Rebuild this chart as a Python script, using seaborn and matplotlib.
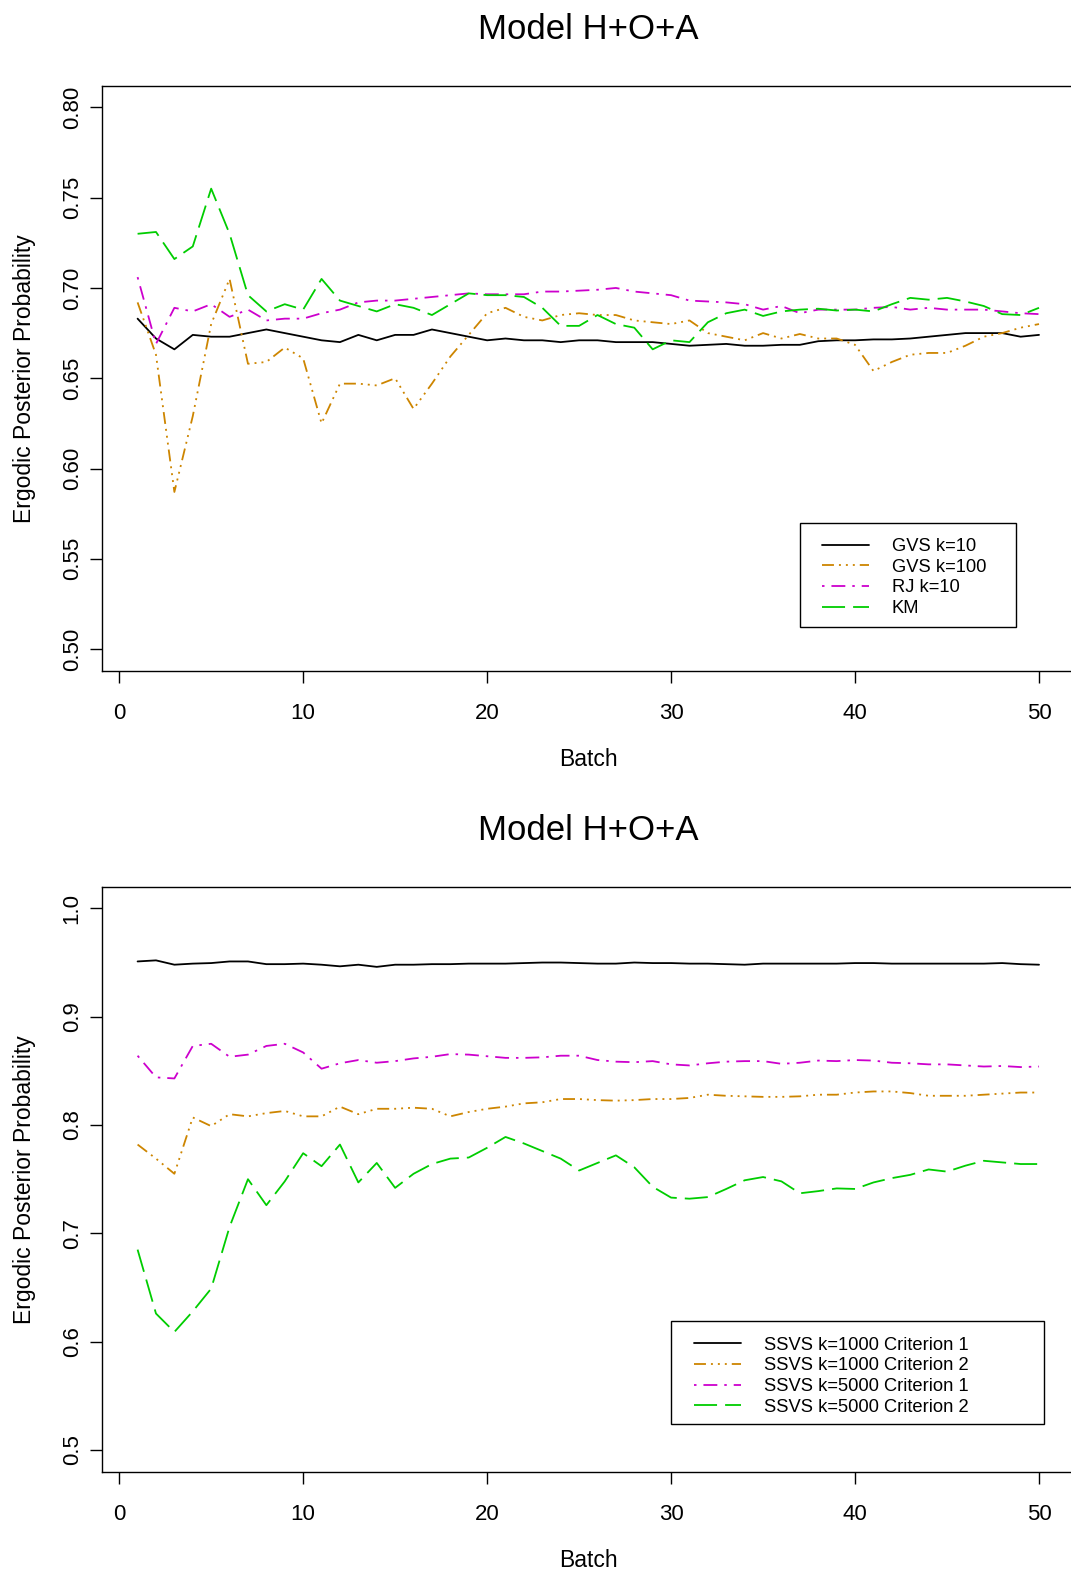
import matplotlib
matplotlib.use("Agg")
import matplotlib.pyplot as plt
from matplotlib.patches import Rectangle
import pandas as pd
import seaborn as sns

# ---- data -------------------------------------------------------------
batch = list(range(1, 51))

# upper panel: GVS / RJ / KM samplers
top_names = ["GVS k=10", "GVS k=100", "RJ k=10", "KM"]
gvs_k10 = [0.683, 0.672, 0.666, 0.674, 0.673, 0.673, 0.675, 0.677, 0.675, 0.673,
           0.671, 0.670, 0.674, 0.671, 0.674, 0.674, 0.677, 0.675, 0.673, 0.671,
           0.672, 0.671, 0.671, 0.670, 0.671, 0.671, 0.670, 0.670, 0.670, 0.669,
           0.668, 0.6685, 0.669, 0.668, 0.668, 0.6685, 0.6685, 0.6705, 0.671, 0.671,
           0.6715, 0.6715, 0.672, 0.673, 0.674, 0.675, 0.675, 0.675, 0.673, 0.674]
gvs_k100 = [0.692, 0.663, 0.587, 0.629, 0.680, 0.705, 0.658, 0.659, 0.667, 0.661,
            0.625, 0.647, 0.647, 0.646, 0.650, 0.633, 0.647, 0.662, 0.674, 0.686,
            0.689, 0.684, 0.682, 0.685, 0.686, 0.685, 0.685, 0.682, 0.681, 0.680,
            0.682, 0.675, 0.673, 0.671, 0.675, 0.672, 0.6745, 0.672, 0.672, 0.6685,
            0.654, 0.659, 0.663, 0.664, 0.664, 0.668, 0.673, 0.675, 0.678, 0.680]
rj_k10 = [0.706, 0.669, 0.689, 0.687, 0.691, 0.684, 0.688, 0.682, 0.683, 0.683,
          0.686, 0.688, 0.692, 0.693, 0.693, 0.694, 0.695, 0.696, 0.697, 0.6965,
          0.6965, 0.6965, 0.698, 0.698, 0.6985, 0.699, 0.700, 0.698, 0.697, 0.696,
          0.693, 0.6925, 0.692, 0.691, 0.688, 0.690, 0.686, 0.688, 0.688, 0.688,
          0.689, 0.6895, 0.688, 0.689, 0.688, 0.688, 0.688, 0.687, 0.686, 0.6855]
km = [0.730, 0.731, 0.716, 0.723, 0.755, 0.730, 0.696, 0.687, 0.691, 0.688,
      0.705, 0.693, 0.690, 0.687, 0.691, 0.689, 0.685, 0.691, 0.697, 0.696,
      0.696, 0.695, 0.689, 0.679, 0.679, 0.685, 0.680, 0.678, 0.666, 0.671,
      0.670, 0.681, 0.686, 0.688, 0.6845, 0.687, 0.688, 0.6885, 0.6875, 0.688,
      0.687, 0.691, 0.6945, 0.6935, 0.6945, 0.6925, 0.690, 0.6855, 0.685, 0.689]

# lower panel: SSVS variants
bottom_names = ["SSVS k=1000 Criterion 1", "SSVS k=1000 Criterion 2",
                "SSVS k=5000 Criterion 1", "SSVS k=5000 Criterion 2"]
ssvs_1000_c1 = [0.951, 0.952, 0.948, 0.949, 0.9495, 0.951, 0.951, 0.9485, 0.9485, 0.949,
                0.948, 0.9465, 0.948, 0.946, 0.948, 0.948, 0.9485, 0.9485, 0.949, 0.949,
                0.949, 0.9495, 0.950, 0.950, 0.9495, 0.949, 0.949, 0.950, 0.9495, 0.9495,
                0.949, 0.949, 0.9485, 0.948, 0.949, 0.949, 0.949, 0.949, 0.949, 0.9495,
                0.9495, 0.949, 0.949, 0.949, 0.949, 0.949, 0.949, 0.9495, 0.9485, 0.948]
ssvs_1000_c2 = [0.782, 0.769, 0.755, 0.807, 0.799, 0.810, 0.808, 0.811, 0.813, 0.808,
                0.808, 0.817, 0.810, 0.815, 0.815, 0.816, 0.815, 0.808, 0.812, 0.815,
                0.817, 0.820, 0.821, 0.824, 0.824, 0.823, 0.8225, 0.823, 0.824, 0.824,
                0.825, 0.828, 0.827, 0.8265, 0.826, 0.826, 0.8265, 0.828, 0.828, 0.830,
                0.831, 0.831, 0.8295, 0.827, 0.827, 0.827, 0.828, 0.829, 0.830, 0.830]
ssvs_5000_c1 = [0.864, 0.844, 0.843, 0.873, 0.875, 0.863, 0.865, 0.873, 0.875, 0.867,
                0.852, 0.857, 0.860, 0.8575, 0.859, 0.8615, 0.863, 0.8655, 0.865, 0.8635,
                0.862, 0.862, 0.8625, 0.864, 0.864, 0.860, 0.8585, 0.858, 0.859, 0.856,
                0.855, 0.857, 0.8585, 0.859, 0.859, 0.8565, 0.8575, 0.8595, 0.859, 0.860,
                0.8595, 0.8575, 0.857, 0.856, 0.856, 0.855, 0.854, 0.8545, 0.8535, 0.854]
ssvs_5000_c2 = [0.685, 0.626, 0.609, 0.628, 0.649, 0.706, 0.750, 0.726, 0.748, 0.774,
                0.762, 0.782, 0.747, 0.765, 0.742, 0.755, 0.764, 0.769, 0.770, 0.779,
                0.789, 0.783, 0.776, 0.769, 0.758, 0.765, 0.772, 0.761, 0.743, 0.733,
                0.732, 0.7335, 0.741, 0.749, 0.752, 0.748, 0.737, 0.739, 0.7415, 0.741,
                0.747, 0.751, 0.754, 0.759, 0.757, 0.7625, 0.767, 0.7655, 0.764, 0.764]

top_series = [gvs_k10, gvs_k100, rj_k10, km]
bottom_series = [ssvs_1000_c1, ssvs_1000_c2, ssvs_5000_c1, ssvs_5000_c2]

# ---- styling ----------------------------------------------------------
colors = ["black", "#CD8500", "#CD00CD", "#00CD00"]
# dash sequences in points: solid, dash-dot-dot-dot, dot-dash, long dash
dash_styles = ["", (8.6, 3.6, 1.4, 3.6, 1.4, 3.6, 1.4, 3.6), (1.8, 5.0, 10.0, 5.0), (16.6, 5.8)]

sns.set_theme(style="white")
plt.rcParams["font.family"] = ["Liberation Sans", "DejaVu Sans"]
plt.rcParams["lines.scale_dashes"] = False
for key in ["text.color", "axes.labelcolor", "xtick.color", "ytick.color", "axes.edgecolor"]:
    plt.rcParams[key] = "black"

fig = plt.figure(figsize=(10.71, 15.73), dpi=100)
ax_top = fig.add_axes([0.0948, 0.5736, 0.909, 0.3719])
ax_bot = fig.add_axes([0.0948, 0.0644, 0.909, 0.3719])


def draw_panel(ax, names, series, ylim, yticks, yticklabels, leg_anchor, leg_box):
    frames = [pd.DataFrame({"Batch": batch, "Probability": vals, "Series": name})
              for name, vals in zip(names, series)]
    data = pd.concat(frames, ignore_index=True)
    sns.lineplot(data=data, x="Batch", y="Probability", hue="Series", style="Series",
                 hue_order=names, style_order=names,
                 palette=dict(zip(names, colors)), dashes=dict(zip(names, dash_styles)),
                 estimator=None, sort=False, legend=False, linewidth=1.3, ax=ax)

    ax.set_xlim(-0.96, 51.96)
    ax.set_ylim(*ylim)
    ax.set_xticks([0, 10, 20, 30, 40, 50])
    ax.set_yticks(yticks)
    ax.set_yticklabels(yticklabels, rotation=90, va="center")
    ax.tick_params(axis="both", direction="out", length=8.6, width=1.0,
                   labelsize=16, bottom=True, left=True)
    ax.tick_params(axis="x", pad=14.5)
    ax.tick_params(axis="y", pad=5)
    for sp in ax.spines.values():
        sp.set_linewidth(1.0)
        sp.set_color("black")

    ax.set_xlabel("Batch", fontsize=16.5)
    ax.set_ylabel("Ergodic Posterior Probability", fontsize=16.5)
    ax.xaxis.set_label_coords(0.5, -0.1322)
    ax.yaxis.set_label_coords(-0.067, 0.5)
    ax.set_title("Model H+O+A", fontsize=25, y=1.0798, pad=0)

    ax.legend(handles=ax.lines[:4], labels=names, loc="upper left",
              bbox_to_anchor=leg_anchor, frameon=False, borderpad=0, borderaxespad=0,
              fontsize=13.2, handlelength=2.57, handletextpad=1.22, labelspacing=0.2)
    x0, y0, w, h = leg_box
    ax.add_patch(Rectangle((x0, y0), w, h, transform=ax.transAxes, fill=False,
                           edgecolor="black", linewidth=1.0, zorder=5))


draw_panel(ax_top, top_names, top_series, (0.488, 0.812),
           [0.50, 0.55, 0.60, 0.65, 0.70, 0.75, 0.80],
           ["0.50", "0.55", "0.60", "0.65", "0.70", "0.75", "0.80"],
           (0.7404, 0.2267), (0.7175, 0.0747, 0.2219, 0.1783))
draw_panel(ax_bot, bottom_names, bottom_series, (0.48, 1.02),
           [0.5, 0.6, 0.7, 0.8, 0.9, 1.0],
           ["0.5", "0.6", "0.7", "0.8", "0.9", "1.0"],
           (0.6086, 0.2308), (0.585, 0.0807, 0.383, 0.1769))

fig.savefig("out.png", dpi=100)
